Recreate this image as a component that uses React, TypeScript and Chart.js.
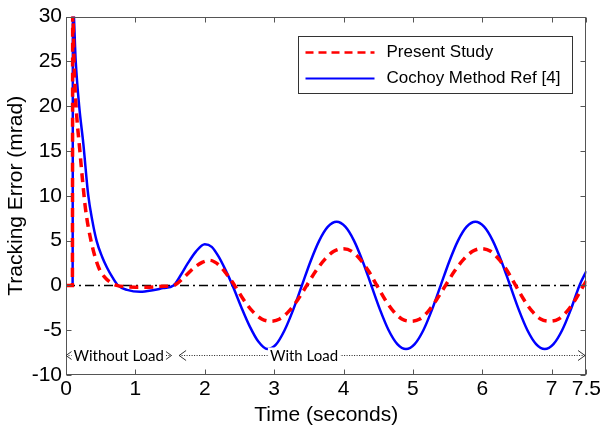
import { useEffect, useRef } from 'react';
import { Chart, registerables } from 'chart.js';

Chart.register(...registerables);

// ---- data ----
const presentTime = [
  0, 0.092, 0.097, 0.115, 0.145, 0.2, 0.24, 0.28, 0.36, 0.47, 0.56, 0.65, 0.73, 0.85, 1.0, 1.2, 1.4, 1.55,
  1.7, 1.85, 1.97, 2.07, 2.2, 2.32, 2.43, 2.56, 2.69, 2.82, 2.95, 3.08, 3.21, 3.34, 3.47, 3.6, 3.73, 3.86,
  4.0, 4.12, 4.24, 4.36, 4.48, 4.6, 4.72, 4.84, 4.96, 5.1, 5.22, 5.34, 5.47, 5.6, 5.73, 5.86, 5.99, 6.12,
  6.24, 6.36, 6.48, 6.6, 6.72, 6.84, 6.96, 7.1, 7.22, 7.34, 7.46, 7.5,
];
const presentValues = [
  0, 0, 31, 25, 20, 15, 11.6, 8.6, 5, 2, 0.9, 0.3, 0, -0.15, -0.2, -0.2, -0.1, 0,
  0.9, 2.0, 2.6, 2.8, 2.3, 1.2, 0, -1.6, -2.9, -3.75, -4.0, -3.75, -2.9, -1.6, 0, 1.6, 2.9, 3.8,
  4.1, 3.8, 2.9, 1.6, 0, -1.6, -2.9, -3.75, -4.0, -3.75, -2.9, -1.6, 0, 1.6, 2.9, 3.8, 4.1, 3.8,
  2.9, 1.6, 0, -1.6, -2.9, -3.75, -4.0, -3.75, -2.9, -1.6, 0, 0.5,
];
const cochoyTime = [
  0, 0.095, 0.1, 0.14, 0.19, 0.25, 0.32, 0.38, 0.44, 0.52, 0.59, 0.67, 0.75, 0.88, 1.07, 1.25, 1.4, 1.55,
  1.65, 1.75, 1.875, 2.0, 2.1, 2.2, 2.3, 2.4, 2.525, 2.65, 2.775, 2.9, 3.025, 3.15, 3.275, 3.4, 3.525, 3.65,
  3.775, 3.9, 4.025, 4.15, 4.275, 4.4, 4.525, 4.65, 4.775, 4.9, 5.025, 5.15, 5.275, 5.4, 5.525, 5.65, 5.775,
  5.9, 6.025, 6.15, 6.275, 6.4, 6.525, 6.65, 6.775, 6.9, 7.025, 7.15, 7.275, 7.4, 7.5,
];
const cochoyValues = [
  0, 0, 31.5, 25, 20, 15.8, 10.1, 7.2, 5, 3.2, 2, 0.9, 0, -0.5, -0.72, -0.55, -0.3, 0,
  1.1, 2.4, 3.8, 4.6, 4.3, 3.2, 1.7, 0, -2.4, -4.6, -6.3, -7.1, -6.6, -5.0, -2.7, 0, 2.7, 5.0,
  6.55, 7.1, 6.55, 5.0, 2.7, 0, -2.7, -5.0, -6.55, -7.1, -6.55, -5.0, -2.7, 0, 2.7, 5.0, 6.55,
  7.1, 6.55, 5.0, 2.7, 0, -2.7, -5.0, -6.55, -7.1, -6.55, -5.0, -2.7, 0, 1.6,
];
const seriesNames = ['Present Study', 'Cochoy Method Ref [4]'];
const xTicks = [0, 1, 2, 3, 4, 5, 6, 7, 7.5];
const yTicks = [-10, -5, 0, 5, 10, 15, 20, 25, 30];
const phaseLabels = ['Without Load', 'With Load'];
const phaseStart = [0, 1.63];
const phaseEnd = [1.52, 7.48];
const phaseLabelAt = [0.76, 3.43];
const xTitle = 'Time (seconds)';
const yTitle = 'Tracking Error (mrad)';

const FONT = "'Liberation Sans', Arial, sans-serif";
const RED = '#ff0000';
const BLUE = '#0000ff';

const overlay = {
  id: 'overlay',
  beforeDatasetsDraw(chart: any) {
    const { ctx, chartArea: a, scales } = chart;
    const y0 = scales.y.getPixelForValue(0);
    ctx.save();
    ctx.strokeStyle = '#000';
    ctx.lineWidth = 1.5;
    ctx.setLineDash([9, 4, 2, 4]);
    ctx.beginPath();
    ctx.moveTo(a.left, y0);
    ctx.lineTo(a.right, y0);
    ctx.stroke();
    ctx.restore();
  },
  afterDraw(chart: any) {
    const { ctx, chartArea: a, scales } = chart;
    const xs = scales.x;
    const ys = scales.y;
    ctx.save();
    // frame
    ctx.strokeStyle = '#555';
    ctx.lineWidth = 1;
    ctx.setLineDash([]);
    const L = Math.round(a.left) + 0.5;
    const R = Math.round(a.right) - 0.5;
    const T = Math.round(a.top) + 0.5;
    const B = Math.round(a.bottom) - 0.5;
    ctx.strokeRect(L, T, R - L, B - T);
    ctx.beginPath();
    xTicks.forEach((v) => {
      const px = Math.round(xs.getPixelForValue(v)) + 0.5;
      ctx.moveTo(px, B);
      ctx.lineTo(px, B - 5);
      ctx.moveTo(px, T);
      ctx.lineTo(px, T + 5);
    });
    yTicks.forEach((v) => {
      const py = Math.round(ys.getPixelForValue(v)) + 0.5;
      ctx.moveTo(L, py);
      ctx.lineTo(L + 5, py);
      ctx.moveTo(R, py);
      ctx.lineTo(R - 5, py);
    });
    ctx.stroke();

    // load phase arrows
    const ay = Math.round(a.bottom - 20) + 0.5;
    ctx.font = "15px Lato, 'Open Sans', sans-serif";
    ctx.textBaseline = 'middle';
    ctx.textAlign = 'center';
    phaseLabels.forEach((label, i) => {
      const p0 = xs.getPixelForValue(phaseStart[i]);
      const p1 = xs.getPixelForValue(phaseEnd[i]);
      ctx.strokeStyle = '#222';
      ctx.lineWidth = 1;
      ctx.setLineDash([1, 1.5]);
      ctx.beginPath();
      ctx.moveTo(p0, ay);
      ctx.lineTo(p1, ay);
      ctx.stroke();
      ctx.setLineDash([]);
      ctx.strokeStyle = '#333';
      ctx.beginPath();
      ctx.moveTo(p0 + 7, ay - 5);
      ctx.lineTo(p0, ay);
      ctx.lineTo(p0 + 7, ay + 5);
      ctx.moveTo(p1 - 7, ay - 5);
      ctx.lineTo(p1, ay);
      ctx.lineTo(p1 - 7, ay + 5);
      ctx.stroke();
      const cx = xs.getPixelForValue(phaseLabelAt[i]);
      const w = ctx.measureText(label).width;
      ctx.fillStyle = '#fff';
      ctx.fillRect(cx - w / 2 - 2, ay - 8, w + 4, 16);
      ctx.fillStyle = '#000';
      ctx.fillText(label, cx, ay + 1);
    });

    // legend
    const bx = Math.round(a.right - 288) + 0.5;
    const by = Math.round(a.top + 19) + 0.5;
    const bw = 274;
    const bh = 57;
    ctx.fillStyle = '#fff';
    ctx.fillRect(bx, by, bw, bh);
    ctx.strokeStyle = '#333';
    ctx.lineWidth = 1;
    ctx.strokeRect(bx, by, bw, bh);
    const rows = [
      { color: RED, dash: [8, 5], width: 2.5, y: by + 16 },
      { color: BLUE, dash: [], width: 2, y: by + 42 },
    ];
    ctx.font = `17px ${FONT}`;
    ctx.textAlign = 'left';
    ctx.textBaseline = 'middle';
    rows.forEach((r, i) => {
      ctx.strokeStyle = r.color;
      ctx.lineWidth = r.width;
      ctx.setLineDash(r.dash);
      ctx.beginPath();
      ctx.moveTo(bx + 7, r.y);
      ctx.lineTo(bx + 76, r.y);
      ctx.stroke();
      ctx.setLineDash([]);
      ctx.fillStyle = '#000';
      ctx.fillText(seriesNames[i], bx + 88, r.y);
    });
    ctx.restore();
  },
};

export default function App() {
  const ref = useRef<HTMLCanvasElement | null>(null);
  useEffect(() => {
    document.body.style.margin = '0';
    const canvas = ref.current;
    if (!canvas) return;
    const chart = new Chart(canvas, {
      type: 'line',
      data: {
        datasets: [
          {
            label: seriesNames[0],
            data: presentTime.map((t, i) => ({ x: t, y: presentValues[i] })),
            borderColor: RED,
            borderWidth: 3.5,
            borderDash: [9, 6],
            pointRadius: 0,
            fill: false,
            cubicInterpolationMode: 'monotone',
            order: 0,
          },
          {
            label: seriesNames[1],
            data: cochoyTime.map((t, i) => ({ x: t, y: cochoyValues[i] })),
            borderColor: BLUE,
            borderWidth: 2.5,
            pointRadius: 0,
            fill: false,
            cubicInterpolationMode: 'monotone',
            order: 1,
          },
        ],
      },
      options: {
        animation: false,
        responsive: false,
        maintainAspectRatio: false,
        layout: { padding: { top: 13, right: 16, left: 0, bottom: 0 } },
        plugins: { legend: { display: false }, tooltip: { enabled: false }, title: { display: false } },
        scales: {
          x: {
            type: 'linear',
            min: 0,
            max: 7.5,
            grid: { display: false, drawTicks: false, tickLength: 0 },
            border: { display: false },
            afterBuildTicks: (axis: any) => {
              axis.ticks = xTicks.map((v) => ({ value: v }));
            },
            afterFit: (scale: any) => {
              scale.height = 55;
            },
            ticks: {
              autoSkip: false,
              maxRotation: 0,
              padding: 2,
              color: '#000',
              font: { family: FONT, size: 21 },
              callback: (v: any) => String(v),
            },
            title: {
              display: true,
              text: xTitle,
              color: '#000',
              font: { family: FONT, size: 21 },
              padding: { top: 0, bottom: 2 },
            },
          },
          y: {
            type: 'linear',
            min: -10,
            max: 30,
            grid: { display: false, drawTicks: false, tickLength: 0 },
            border: { display: false },
            afterBuildTicks: (axis: any) => {
              axis.ticks = yTicks.map((v) => ({ value: v }));
            },
            afterFit: (scale: any) => {
              scale.width = 66;
            },
            ticks: {
              autoSkip: false,
              padding: 4,
              color: '#000',
              font: { family: FONT, size: 21 },
              callback: (v: any) => String(v),
            },
            title: {
              display: true,
              text: yTitle,
              color: '#000',
              font: { family: FONT, size: 21 },
              padding: { top: 4, bottom: 0 },
            },
          },
        },
      },
      plugins: [overlay],
    } as any);
    return () => chart.destroy();
  }, []);
  return (
    <div style={{ width: 603, height: 430 }}>
      <canvas ref={ref} width={603} height={430} style={{ width: 603, height: 430, display: 'block' }} />
    </div>
  );
}
